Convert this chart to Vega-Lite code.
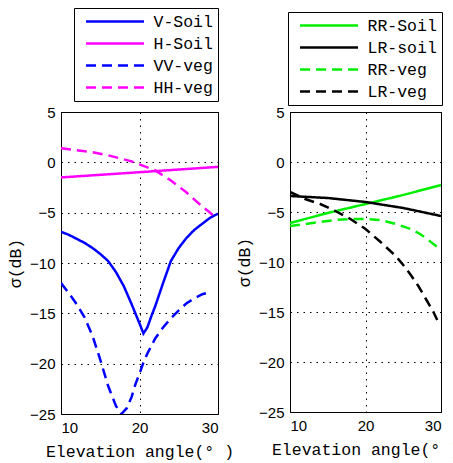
{
  "$schema": "https://vega.github.io/schema/vega-lite/v6.json",
  "padding": {"left": 7, "top": 7, "right": 0, "bottom": 0},
  "spacing": 1,
  "background": "white",
  "datasets": {
    "left": [
      {"s": "V-Soil", "x": 10, "y": -6.9}, {"s": "V-Soil", "x": 11, "y": -7.2}, {"s": "V-Soil", "x": 12, "y": -7.6}, {"s": "V-Soil", "x": 13, "y": -8.0}, {"s": "V-Soil", "x": 14, "y": -8.5}, {"s": "V-Soil", "x": 15, "y": -9.1}, {"s": "V-Soil", "x": 16, "y": -9.8}, {"s": "V-Soil", "x": 17, "y": -10.9}, {"s": "V-Soil", "x": 18, "y": -12.3}, {"s": "V-Soil", "x": 19, "y": -14.1}, {"s": "V-Soil", "x": 20, "y": -16.0}, {"s": "V-Soil", "x": 20.5, "y": -17.0}, {"s": "V-Soil", "x": 21, "y": -16.4}, {"s": "V-Soil", "x": 21.5, "y": -15.3}, {"s": "V-Soil", "x": 22, "y": -14.3}, {"s": "V-Soil", "x": 23, "y": -12.0}, {"s": "V-Soil", "x": 24, "y": -9.8}, {"s": "V-Soil", "x": 25, "y": -8.5}, {"s": "V-Soil", "x": 26, "y": -7.5}, {"s": "V-Soil", "x": 27, "y": -6.7}, {"s": "V-Soil", "x": 28, "y": -6.1}, {"s": "V-Soil", "x": 29, "y": -5.5}, {"s": "V-Soil", "x": 30, "y": -5.1},
      {"s": "H-Soil", "x": 10, "y": -1.5}, {"s": "H-Soil", "x": 20, "y": -0.98}, {"s": "H-Soil", "x": 30, "y": -0.45},
      {"s": "VV-veg", "x": 10, "y": -12.0}, {"s": "VV-veg", "x": 11, "y": -13.0}, {"s": "VV-veg", "x": 12, "y": -14.1}, {"s": "VV-veg", "x": 13, "y": -15.4}, {"s": "VV-veg", "x": 14, "y": -17.2}, {"s": "VV-veg", "x": 15, "y": -19.6}, {"s": "VV-veg", "x": 16, "y": -22.2}, {"s": "VV-veg", "x": 17, "y": -24.2}, {"s": "VV-veg", "x": 17.7, "y": -25.0}, {"s": "VV-veg", "x": 18.4, "y": -24.4}, {"s": "VV-veg", "x": 19, "y": -23.3}, {"s": "VV-veg", "x": 19.5, "y": -22.0}, {"s": "VV-veg", "x": 20, "y": -21.0}, {"s": "VV-veg", "x": 20.5, "y": -19.9}, {"s": "VV-veg", "x": 21, "y": -19.0}, {"s": "VV-veg", "x": 22, "y": -17.5}, {"s": "VV-veg", "x": 23, "y": -16.4}, {"s": "VV-veg", "x": 24, "y": -15.5}, {"s": "VV-veg", "x": 25, "y": -14.7}, {"s": "VV-veg", "x": 26, "y": -14.0}, {"s": "VV-veg", "x": 27, "y": -13.5}, {"s": "VV-veg", "x": 28, "y": -13.1}, {"s": "VV-veg", "x": 29, "y": -12.9},
      {"s": "HH-veg", "x": 10, "y": 1.4}, {"s": "HH-veg", "x": 12, "y": 1.2}, {"s": "HH-veg", "x": 14, "y": 1.0}, {"s": "HH-veg", "x": 16, "y": 0.7}, {"s": "HH-veg", "x": 18, "y": 0.3}, {"s": "HH-veg", "x": 19, "y": 0.1}, {"s": "HH-veg", "x": 20, "y": -0.2}, {"s": "HH-veg", "x": 21, "y": -0.5}, {"s": "HH-veg", "x": 22, "y": -0.8}, {"s": "HH-veg", "x": 23, "y": -1.3}, {"s": "HH-veg", "x": 24, "y": -1.8}, {"s": "HH-veg", "x": 25, "y": -2.4}, {"s": "HH-veg", "x": 26, "y": -3.0}, {"s": "HH-veg", "x": 27, "y": -3.7}, {"s": "HH-veg", "x": 28, "y": -4.4}, {"s": "HH-veg", "x": 29, "y": -5.0}, {"s": "HH-veg", "x": 29.6, "y": -5.5}
    ],
    "right": [
      {"s": "RR-Soil", "x": 10, "y": -6.1}, {"s": "RR-Soil", "x": 15, "y": -5.1}, {"s": "RR-Soil", "x": 20, "y": -4.2}, {"s": "RR-Soil", "x": 25, "y": -3.3}, {"s": "RR-Soil", "x": 30, "y": -2.3},
      {"s": "LR-soil", "x": 10, "y": -3.4}, {"s": "LR-soil", "x": 12.5, "y": -3.5}, {"s": "LR-soil", "x": 15, "y": -3.6}, {"s": "LR-soil", "x": 17.5, "y": -3.8}, {"s": "LR-soil", "x": 20, "y": -4.0}, {"s": "LR-soil", "x": 22.5, "y": -4.3}, {"s": "LR-soil", "x": 25, "y": -4.6}, {"s": "LR-soil", "x": 27.5, "y": -5.0}, {"s": "LR-soil", "x": 30, "y": -5.4},
      {"s": "RR-veg", "x": 10, "y": -6.4}, {"s": "RR-veg", "x": 12, "y": -6.2}, {"s": "RR-veg", "x": 14, "y": -6.0}, {"s": "RR-veg", "x": 16, "y": -5.8}, {"s": "RR-veg", "x": 18, "y": -5.7}, {"s": "RR-veg", "x": 20, "y": -5.7}, {"s": "RR-veg", "x": 22, "y": -5.8}, {"s": "RR-veg", "x": 24, "y": -6.2}, {"s": "RR-veg", "x": 26, "y": -6.7}, {"s": "RR-veg", "x": 27, "y": -7.1}, {"s": "RR-veg", "x": 28, "y": -7.6}, {"s": "RR-veg", "x": 29, "y": -8.2}, {"s": "RR-veg", "x": 29.5, "y": -8.5},
      {"s": "LR-veg", "x": 10, "y": -3.0}, {"s": "LR-veg", "x": 12, "y": -3.7}, {"s": "LR-veg", "x": 14, "y": -4.2}, {"s": "LR-veg", "x": 16, "y": -4.9}, {"s": "LR-veg", "x": 18, "y": -5.7}, {"s": "LR-veg", "x": 20, "y": -6.7}, {"s": "LR-veg", "x": 22, "y": -8.0}, {"s": "LR-veg", "x": 24, "y": -9.4}, {"s": "LR-veg", "x": 25, "y": -10.3}, {"s": "LR-veg", "x": 26, "y": -11.3}, {"s": "LR-veg", "x": 27, "y": -12.4}, {"s": "LR-veg", "x": 28, "y": -13.7}, {"s": "LR-veg", "x": 29, "y": -15.0}, {"s": "LR-veg", "x": 29.5, "y": -15.8}
    ]
  },
  "hconcat": [
    {
      "width": 157,
      "height": 302,
      "data": {"name": "left"},
      "mark": {"type": "line", "strokeWidth": 2.5, "clip": true},
      "encoding": {
        "x": {"field": "x", "type": "quantitative", "scale": {"domain": [10, 30], "nice": false}, "axis": {"values": [10, 20, 30], "title": "Elevation angle(° )"}},
        "y": {"field": "y", "type": "quantitative", "scale": {"domain": [-25, 5], "nice": false}, "axis": {"values": [-25, -20, -15, -10, -5, 0, 5], "title": "σ(dB)"}},
        "color": {"field": "s", "type": "nominal", "scale": {"domain": ["V-Soil", "H-Soil", "VV-veg", "HH-veg"], "range": ["#0000ff", "#ff00ff", "#0000ff", "#ff00ff"]}, "legend": {"title": null, "orient": "none", "legendX": 13, "legendY": -104}},
        "strokeDash": {"field": "s", "type": "nominal", "scale": {"domain": ["V-Soil", "H-Soil", "VV-veg", "HH-veg"], "range": [[1, 0], [1, 0], [10, 6], [10, 6]]}, "legend": {"title": null, "orient": "none", "legendX": 13, "legendY": -104}}
      }
    },
    {
      "width": 151,
      "height": 300,
      "data": {"name": "right"},
      "mark": {"type": "line", "strokeWidth": 2.5, "clip": true},
      "encoding": {
        "x": {"field": "x", "type": "quantitative", "scale": {"domain": [10, 30], "nice": false}, "axis": {"values": [10, 20, 30], "title": "Elevation angle(° )"}},
        "y": {"field": "y", "type": "quantitative", "scale": {"domain": [-25, 5], "nice": false}, "axis": {"values": [-25, -20, -15, -10, -5, 0, 5], "title": "σ(dB)"}},
        "color": {"field": "s", "type": "nominal", "scale": {"domain": ["RR-Soil", "LR-soil", "RR-veg", "LR-veg"], "range": ["#00ee00", "#000000", "#00ee00", "#000000"]}, "legend": {"title": null, "orient": "none", "legendX": -2, "legendY": -100}},
        "strokeDash": {"field": "s", "type": "nominal", "scale": {"domain": ["RR-Soil", "LR-soil", "RR-veg", "LR-veg"], "range": [[1, 0], [1, 0], [10, 6], [10, 6]]}, "legend": {"title": null, "orient": "none", "legendX": -2, "legendY": -100}}
      }
    }
  ],
  "resolve": {
    "scale": {"color": "independent", "strokeDash": "independent"},
    "legend": {"color": "independent", "strokeDash": "independent"}
  },
  "config": {
    "view": {"stroke": "black", "strokeWidth": 1},
    "axis": {
      "labelFont": "Liberation Sans",
      "labelFontSize": 15,
      "labelColor": "black",
      "titleFont": "Liberation Mono",
      "titleFontSize": 16.5,
      "titleFontWeight": "normal",
      "titleColor": "black",
      "ticks": false,
      "labelPadding": 6,
      "domain": false,
      "grid": true,
      "gridColor": "black",
      "gridDash": [1.5, 5],
      "gridOpacity": 1,
      "gridWidth": 1,
      "titlePadding": 6
    },
    "axisX": {"labelPadding": 6, "titlePadding": 8},
    "legend": {
      "strokeColor": "black",
      "strokeWidth": 1,
      "fillColor": "white",
      "padding": 5,
      "symbolType": "M-4.14,0H4.14",
      "symbolSize": 196,
      "symbolStrokeWidth": 2.5,
      "symbolOffset": 27.5,
      "labelOffset": 30,
      "labelFont": "Liberation Mono",
      "labelFontSize": 16.5,
      "labelColor": "black",
      "rowPadding": 5
    }
  }
}
